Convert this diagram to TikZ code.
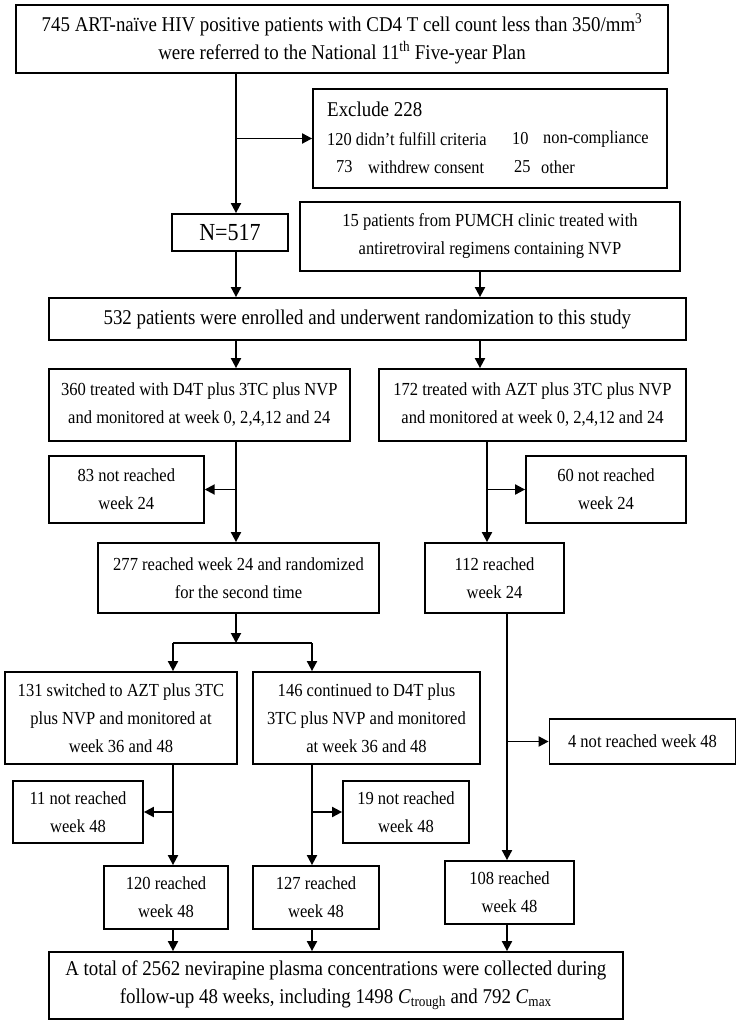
\documentclass[tikz,border=0pt]{standalone}
\usepackage{fontspec}
\setmainfont[FakeStretch=0.9]{Liberation Serif}
\usetikzlibrary{arrows.meta}
\newcommand\myfs{\fontsize{18.4}{28}\selectfont}
\newcommand\mybig{\fontsize{21}{28}\selectfont}
\newcommand\mysmall{\fontsize{18.2}{28}\selectfont}
\begin{document}
\begin{tikzpicture}[x=1pt,y=1pt,
  bx/.style 2 args={draw,line width=1.8pt,minimum width=#1,minimum height=#2,inner sep=0pt,align=center,font=\myfs},
  big/.style={font=\mybig},
  ln/.style={line width=1.9pt},
  arr/.style={-{Triangle[length=10pt,width=10pt]}},
  lbl/.style={anchor=west,inner sep=0pt,font=\mysmall}
]
\fill[white] (0,0) rectangle (736,-1024);
\useasboundingbox (0,0) rectangle (736,-1024);

% boxes
\node[bx={652}{68},big] (top) at (342,-39) {745 ART-naïve HIV positive patients with CD4 T cell count less than 350/mm\textsuperscript{3}\\were referred to the National 11\textsuperscript{th} Five-year Plan};
\node[bx={354}{99}] (excl) at (490,-138.5) {};
\node[lbl,font=\mybig] (ex0) at (327,-109) {Exclude 228};
\node[lbl] (ex1) at (327,-139) {120 didn’t fulfill criteria};
\node[lbl] (ex2) at (512,-139) {10};
\node[lbl] (ex3) at (543,-139) {non-compliance};
\node[lbl] (ex4) at (336,-167) {73};
\node[lbl] (ex5) at (368,-167) {withdrew consent};
\node[lbl] (ex6) at (514,-167) {25};
\node[lbl] (ex7) at (541,-167) {other};
\node[bx={116}{37},font=\fontsize{24.5}{28}\selectfont] (n517) at (230,-232.5) {N=517};
\node[bx={380}{69}] (p15) at (490,-236.5) {15 patients from PUMCH clinic treated with\\antiretroviral regimens containing NVP};
\node[bx={637}{42},big] (b532) at (367.3,-319) {532 patients were enrolled and underwent randomization to this study};
\node[bx={301}{72}] (b360) at (199.3,-405) {360 treated with D4T plus 3TC plus NVP\\and monitored at week 0, 2,4,12 and 24};
\node[bx={307}{72}] (b172) at (532.5,-405) {172 treated with AZT plus 3TC plus NVP\\and monitored at week 0, 2,4,12 and 24};
\node[bx={155}{67}] (b83) at (126.3,-489.5) {83 not reached\\week 24};
\node[bx={160}{67}] (b60) at (606,-489.5) {60 not reached\\week 24};
\node[bx={281}{70}] (b277) at (238.5,-578) {277 reached week 24 and randomized\\for the second time};
\node[bx={139}{70}] (b112) at (494.5,-578) {112 reached\\week 24};
\node[bx={232}{92}] (b131) at (121,-718) {131 switched to AZT plus 3TC\\plus NVP and monitored at\\week 36 and 48};
\node[bx={227}{92}] (b146) at (366.5,-718) {146 continued to D4T plus\\3TC plus NVP and monitored\\at week 36 and 48};
\node[bx={186}{45}] (b4) at (642.5,-741.5) {4 not reached week 48};
\node[bx={130}{62}] (b11) at (78,-812) {11 not reached\\week 48};
\node[bx={126}{62}] (b19) at (406,-812) {19 not reached\\week 48};
\node[bx={124}{63}] (b120) at (166,-897.5) {120 reached\\week 48};
\node[bx={126}{63}] (b127) at (316,-897.5) {127 reached\\week 48};
\node[bx={129}{63}] (b108) at (509.5,-892.5) {108 reached\\week 48};
\node[bx={574}{67},big] (bot) at (335.8,-985.5) {A total of 2562 nevirapine plasma concentrations were collected during\\follow-up 48 weeks, including 1498 \textit{C}\textsubscript{trough} and 792 \textit{C}\textsubscript{max}};

% column coordinates
\coordinate (xa) at (236,0);
\coordinate (xb) at (480,0);
\coordinate (xc) at (487,0);
\coordinate (xd) at (507,0);
\coordinate (xe) at (173,0);
\coordinate (xf) at (312,0);
\coordinate (jn) at (236,-643);

% connectors
\draw[ln,arr] (top.south -| xa) -- (n517.north -| xa);
\draw[ln,arr] (excl.west -| xa) -- (excl.west);
\draw[ln,arr] (n517.south -| xa) -- (b532.north -| xa);
\draw[ln,arr] (p15.south -| xb) -- (b532.north -| xb);
\draw[ln,arr] (b532.south -| xa) -- (b360.north -| xa);
\draw[ln,arr] (b532.south -| xb) -- (b172.north -| xb);
\draw[ln,arr] (b360.south -| xa) -- (b277.north -| xa);
\draw[ln,arr] (b83.east -| xa) -- (b83.east);
\draw[ln,arr] (b172.south -| xc) -- (b112.north -| xc);
\draw[ln,arr] (b60.west -| xc) -- (b60.west);
\draw[ln,arr] (b277.south -| xa) -- (jn);
\draw[ln] (jn -| xe) -- (jn -| xf);
\draw[ln,arr] (jn -| xe) -- (b131.north -| xe);
\draw[ln,arr] (jn -| xf) -- (b146.north -| xf);
\draw[ln,arr] (b112.south -| xd) -- (b108.north -| xd);
\draw[ln,arr] (b4.west -| xd) -- (b4.west);
\draw[ln,arr] (b131.south -| xe) -- (b120.north -| xe);
\draw[ln,arr] (b11.east -| xe) -- (b11.east);
\draw[ln,arr] (b146.south -| xf) -- (b127.north -| xf);
\draw[ln,arr] (b19.west -| xf) -- (b19.west);
\draw[ln,arr] (b120.south -| xe) -- (bot.north -| xe);
\draw[ln,arr] (b127.south -| xf) -- (bot.north -| xf);
\draw[ln,arr] (b108.south -| xd) -- (bot.north -| xd);
\end{tikzpicture}
\end{document}
